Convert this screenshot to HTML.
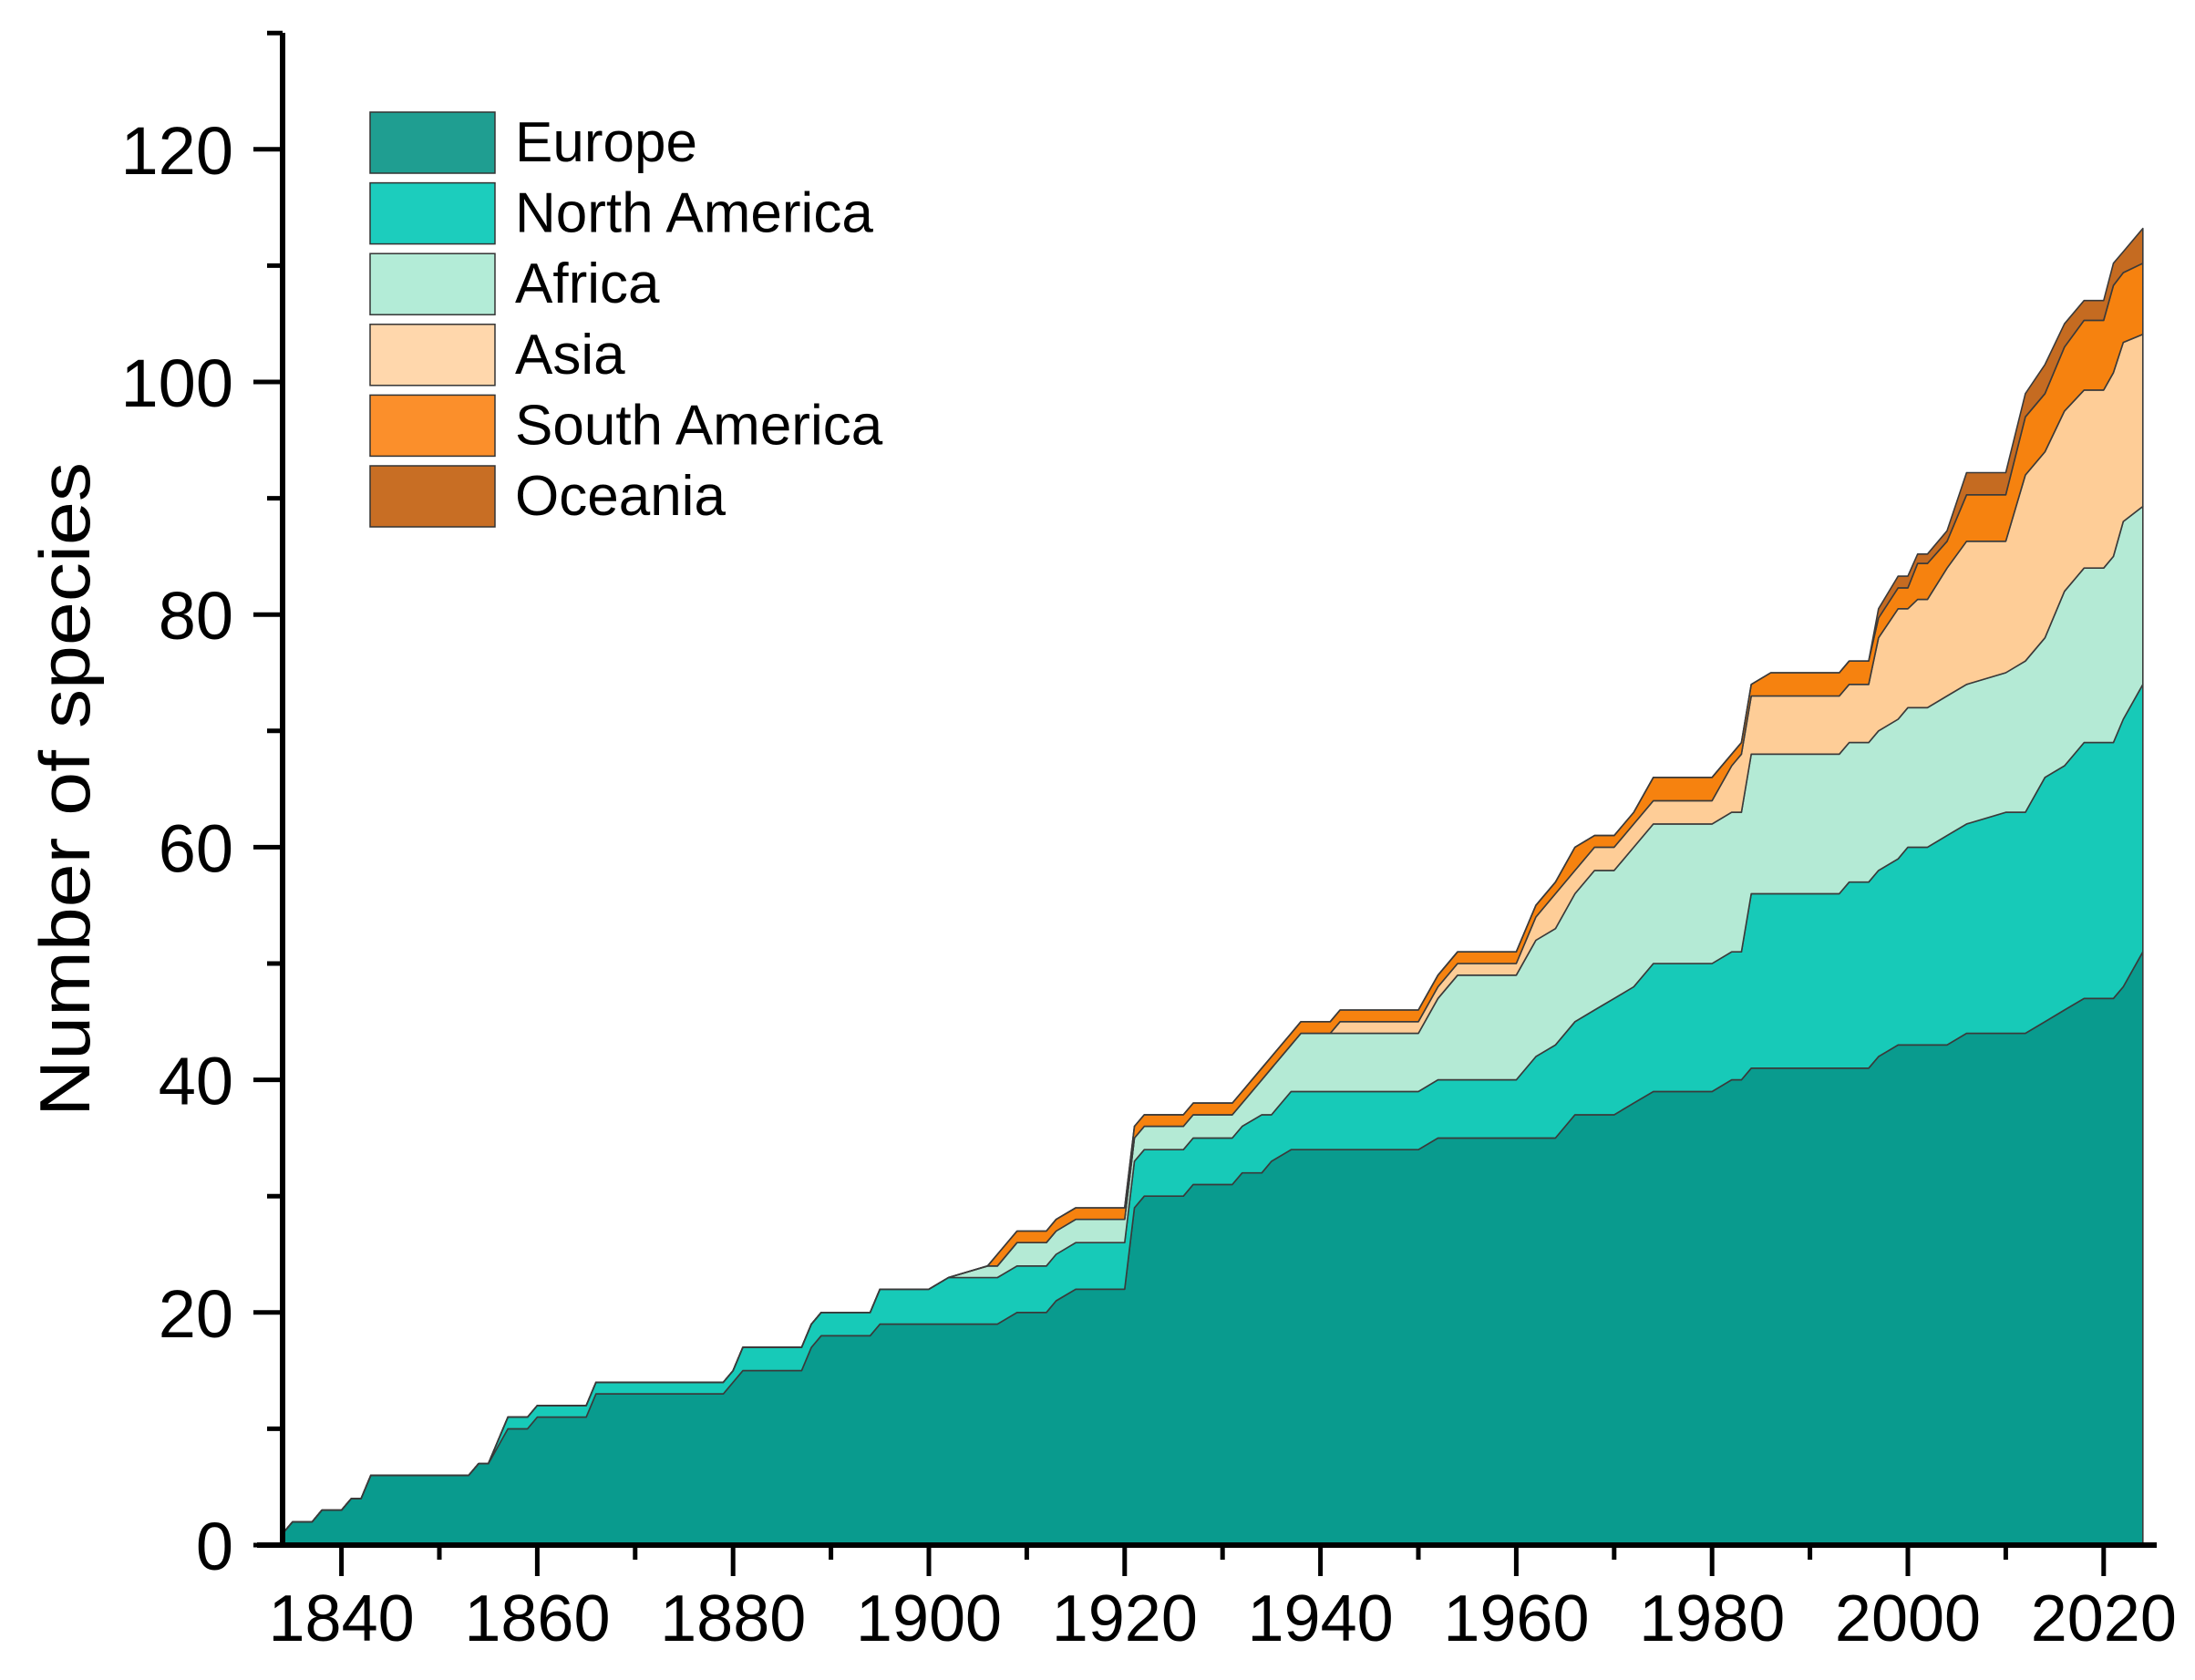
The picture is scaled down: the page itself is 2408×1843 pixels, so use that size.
<!DOCTYPE html>
<html><head><meta charset="utf-8"><style>
html,body{margin:0;padding:0;background:#fff;}
svg{display:block;font-family:"Liberation Sans",Arial,sans-serif;}
</style></head><body>
<svg id="chart" width="2408" height="1843" viewBox="0 0 2408 1843" xmlns="http://www.w3.org/2000/svg">
<g id="areas"></g>
<g id="axes"></g>
<text transform="translate(98,866) rotate(-90)" text-anchor="middle" font-size="78" textLength="718" lengthAdjust="spacingAndGlyphs">Number of species</text>
<g id="legend"></g>
</svg>
<script>
const years = [1834,1835,1837,1838,1840,1841,1842,1843,1853,1854,1855,1857,1859,1860,1865,1866,1879,1880,1881,1887,1888,1889,1894,1895,1900,1902,1906,1907,1909,1912,1913,1915,1920,1921,1922,1926,1927,1931,1932,1934,1935,1937,1938,1941,1942,1950,1952,1954,1960,1962,1964,1966,1968,1970,1972,1974,1980,1982,1983,1984,1986,1993,1994,1996,1997,1999,2000,2001,2002,2004,2006,2010,2012,2014,2016,2018,2020,2021,2022,2024];
const europe = [1,2,2,3,3,4,4,6,6,7,7,10,10,11,11,13,13,14,15,15,17,18,18,19,19,19,19,19,20,20,21,22,22,29,30,30,31,31,32,32,33,34,34,34,34,34,35,35,35,35,35,37,37,37,38,39,39,40,40,41,41,41,41,41,42,43,43,43,43,43,44,44,44,45,46,47,47,47,48,51];
const northAmerica = [0,0,0,0,0,0,0,0,0,0,0,1,1,1,1,1,1,1,2,2,2,2,2,3,3,4,4,4,4,4,4,4,4,4,4,4,4,4,4,5,4,5,5,5,5,5,5,5,5,7,8,8,9,10,10,11,11,11,11,15,15,15,16,16,16,16,17,17,17,18,18,19,19,21,21,22,22,22,23,23];
const africa = [0,0,0,0,0,0,0,0,0,0,0,0,0,0,0,0,0,0,0,0,0,0,0,0,0,0,1,1,2,2,2,2,2,2,2,2,2,2,2,3,4,4,5,5,5,5,7,9,9,10,10,11,12,11,12,12,12,12,12,12,12,12,12,12,12,12,12,12,12,12,12,12,13,12,15,15,15,16,17,15.3];
const asia = [0,0,0,0,0,0,0,0,0,0,0,0,0,0,0,0,0,0,0,0,0,0,0,0,0,0,0,0,0,0,0,0,0,0,0,0,0,0,0,0,0,0,0,0,1,1,1,1,1,2,3,2,2,2,2,2,2,4,5,5,5,5,5,5,8,9.5,8.5,9.3,9.3,11,12.3,11.3,16,16,15.5,15.3,15.3,15.8,15.4,14.8];
const southAmerica = [0,0,0,0,0,0,0,0,0,0,0,0,0,0,0,0,0,0,0,0,0,0,0,0,0,0,0,1,1,1,1,1,1,1,1,1,1,1,1,1,1,1,1,1,1,1,1,1,1,1,1,2,1,1,1,2,2,1,1,1,2,2,2,2,1.7,1.8,1.8,3.1,3.1,2.3,4,4,5,5,5.5,6,6,7.5,6,6.1];
const oceania = [0,0,0,0,0,0,0,0,0,0,0,0,0,0,0,0,0,0,0,0,0,0,0,0,0,0,0,0,0,0,0,0,0,0,0,0,0,0,0,0,0,0,0,0,0,0,0,0,0,0,0,0,0,0,0,0,0,0,0,0,0,0,0,0,0.8,1,1,0.8,0.8,0.9,1.9,1.9,2,2.5,2,1.7,1.7,1.9,1.8,3];
const seriesNames = ["Europe","North America","Africa","Asia","South America","Oceania"];
const yTicks = [0,20,40,60,80,100,120];
const xTicks = [1840,1860,1880,1900,1920,1940,1960,1980,2000,2020];

const NS = "http://www.w3.org/2000/svg";
const X0 = 310, Y0 = 1695;
function xs(yr){ return 374.6 + (yr - 1840) * 10.74; }
function ys(v){ return Y0 - v * 12.76; }
function mk(tag, attrs, parent){ const e=document.createElementNS(NS,tag); for(const k in attrs) e.setAttribute(k,attrs[k]); parent.appendChild(e); return e; }

const series = [europe,northAmerica,africa,asia,southAmerica,oceania];
const fills = ["#099b8e","#17cab8","#b4ead5","#fecd97","#f6820f","#c56b21"];
const legFills = ["#1f9e91","#1ccdbd","#b3ecd7","#ffd7ac","#fb8f2b","#c86e24"];
const keys = ["europe","north-america","africa","asia","south-america","oceania"];

const gA = document.getElementById('areas');
let base = years.map(()=>0);
series.forEach((s,i)=>{
  const top = base.map((b,j)=>b+s[j]);
  let d = "M"+years.map((yr,j)=>xs(yr).toFixed(1)+","+ys(top[j]).toFixed(1)).join(" L");
  for(let j=years.length-1;j>=0;j--) d += " L"+xs(years[j]).toFixed(1)+","+ys(base[j]).toFixed(1);
  d += " Z";
  const p = mk('path',{d:d,fill:fills[i],stroke:"#3a3a3a","stroke-width":"1.6","stroke-linejoin":"round"},gA);
  
  
  base = top;
});

const gX = document.getElementById('axes');
const yl = mk('line',{x1:X0,y1:36,x2:X0,y2:Y0+3,stroke:"#000","stroke-width":"6"},gX);


const xl = mk('line',{x1:282,y1:Y0,x2:2366,y2:Y0,stroke:"#000","stroke-width":"6"},gX);


for(let v=0; v<=130; v+=10){
  const major = v%20===0;
  const t = mk('line',{x1:X0-(major?32:17),y1:ys(v),x2:X0,y2:ys(v),stroke:"#000","stroke-width":"5"},gX);
  
  
}
yTicks.forEach(v=>{
  const t = mk('text',{x:256,y:ys(v)+27,"text-anchor":"end","font-size":"74"},gX);
  t.textContent = v;
  
  
});
for(let yr=1840; yr<=2020; yr+=10){
  const major = yr%20===0;
  const t = mk('line',{x1:xs(yr),y1:Y0,x2:xs(yr),y2:Y0+(major?34:16),stroke:"#000","stroke-width":"5"},gX);
  
  
}
xTicks.forEach(yr=>{
  const t = mk('text',{x:xs(yr),y:1800,"text-anchor":"middle","font-size":"72"},gX);
  t.textContent = yr;
  
  
});

const gL = document.getElementById('legend');
seriesNames.forEach((n,i)=>{
  const y = 123 + i*77.6;
  const g = mk('g',{},gL);
  
  
  mk('rect',{x:406,y:y,width:137,height:67,fill:legFills[i],stroke:"#333","stroke-width":"1.5"},g);
  const t = mk('text',{x:565,y:y+54,"font-size":"62"},g);
  t.textContent = n;
});
</script>
</body></html>
